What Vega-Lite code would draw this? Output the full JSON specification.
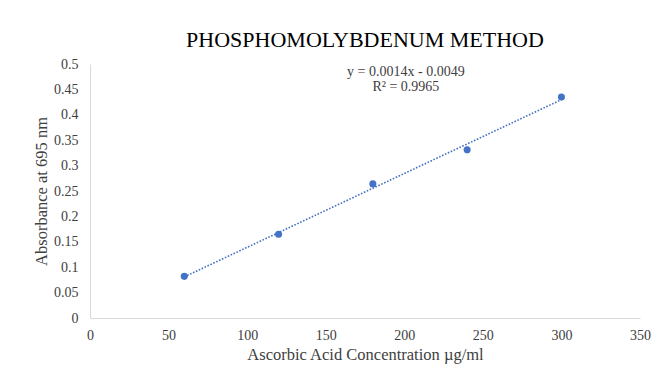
{
  "$schema": "https://vega.github.io/schema/vega-lite/v6.json",
  "width": 550,
  "height": 254,
  "padding": {"left": 33, "top": 29, "right": 10, "bottom": 5},
  "background": "white",
  "config": {
    "view": {"stroke": null},
    "font": "Liberation Serif",
    "axis": {
      "grid": false,
      "ticks": false,
      "labelFlush": false,
      "domainColor": "#d9d9d9",
      "domainWidth": 1,
      "labelFont": "Liberation Serif",
      "labelFontSize": 14,
      "labelColor": "#404040",
      "titleFont": "Liberation Serif",
      "titleFontSize": 16.5,
      "titleFontWeight": "normal",
      "titleColor": "#404040"
    }
  },
  "title": {
    "text": "PHOSPHOMOLYBDENUM  METHOD",
    "font": "Liberation Serif",
    "fontSize": 22,
    "fontWeight": "normal",
    "color": "#000000",
    "anchor": "middle",
    "offset": 5
  },
  "datasets": {
    "points": [
      {"conc": 60, "abs": 0.082},
      {"conc": 120, "abs": 0.165},
      {"conc": 180, "abs": 0.264},
      {"conc": 240, "abs": 0.331},
      {"conc": 300, "abs": 0.435}
    ],
    "equation": [
      {"conc": 201, "abs": 0.484, "label": "y = 0.0014x - 0.0049"},
      {"conc": 201, "abs": 0.455, "label": "R² = 0.9965"}
    ]
  },
  "encoding": {
    "x": {
      "field": "conc",
      "type": "quantitative",
      "scale": {"domain": [0, 350], "nice": false},
      "axis": {"values": [0, 50, 100, 150, 200, 250, 300, 350], "title": "Ascorbic Acid Concentration µg/ml", "labelPadding": 10, "titlePadding": 4}
    },
    "y": {
      "field": "abs",
      "type": "quantitative",
      "scale": {"domain": [0, 0.5], "nice": false},
      "axis": {"values": [0, 0.05, 0.1, 0.15, 0.2, 0.25, 0.3, 0.35, 0.4, 0.45, 0.5], "format": ".2~f", "title": "Absorbance at 695 nm", "labelPadding": 12, "titlePadding": 4}
    }
  },
  "layer": [
    {
      "data": {"name": "points"},
      "transform": [
        {"regression": "abs", "on": "conc", "method": "linear", "extent": [60, 300]}
      ],
      "mark": {"type": "line", "color": "#4472C4", "strokeWidth": 1.6, "strokeDash": [1.6, 1.6]}
    },
    {
      "data": {"name": "points"},
      "mark": {"type": "circle", "color": "#4472C4", "opacity": 1, "size": 50}
    },
    {
      "data": {"name": "equation"},
      "mark": {"type": "text", "fontSize": 14, "color": "#404040", "font": "Liberation Serif"},
      "encoding": {"text": {"field": "label"}}
    }
  ]
}
